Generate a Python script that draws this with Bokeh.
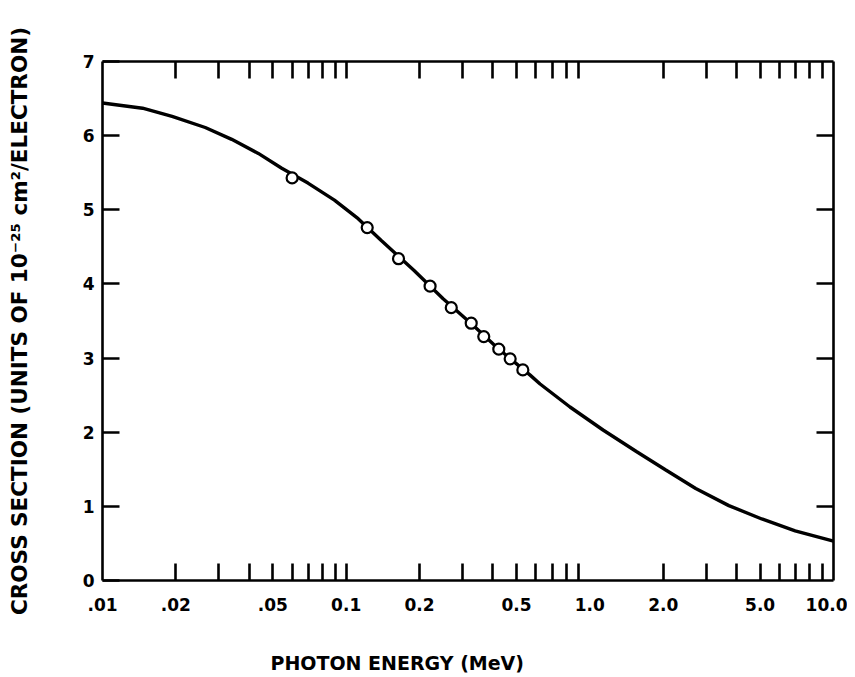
from bokeh.plotting import figure
from bokeh.models import LogAxis, LinearAxis, FixedTicker, Title
from bokeh.embed import file_html
from bokeh.resources import INLINE

# ---- data ----
curve_energy = [0.01, 0.0146, 0.0193, 0.0264, 0.0339, 0.0436, 0.0544, 0.0697, 0.0895,
                0.112, 0.139, 0.19, 0.25, 0.33, 0.42, 0.569, 0.625, 0.829, 1.133, 1.552,
                2.05, 2.72, 3.72, 5.08, 6.96, 10.0]
curve_sigma = [6.44, 6.37, 6.26, 6.11, 5.95, 5.76, 5.56, 5.36, 5.13,
               4.88, 4.59, 4.18, 3.80, 3.45, 3.13, 2.77, 2.65, 2.34, 2.03, 1.74,
               1.49, 1.24, 1.01, 0.83, 0.67, 0.53]

point_energy = [0.060, 0.122, 0.164, 0.221, 0.270, 0.326, 0.367, 0.423, 0.471, 0.531]
point_sigma = [5.43, 4.76, 4.34, 3.97, 3.68, 3.47, 3.29, 3.12, 2.99, 2.84]

x_label_values = [0.01, 0.02, 0.05, 0.1, 0.2, 0.5, 1.0, 2.0, 5.0, 10.0]
x_label_texts = [".01", ".02", ".05", "0.1", "0.2", "0.5", "1.0", "2.0", "5.0", "10.0"]
x_tick_marks = [0.02, 0.03, 0.04, 0.05, 0.06, 0.07, 0.08, 0.09, 0.1,
                0.2, 0.3, 0.4, 0.5, 0.6, 0.7, 0.8, 0.9,
                2.0, 3.0, 4.0, 5.0, 6.0, 7.0, 8.0, 9.0]
y_tick_values = [0, 1, 2, 3, 4, 5, 6, 7]
y_inner_ticks = [1, 2, 3, 4, 5, 6]

FONT = "DejaVu Sans"
TICK_FS = "17px"
LW = 2.6
TICK_LEN = 17

p = figure(width=847, height=677, x_axis_type="log", x_range=(0.01, 10), y_range=(0, 7),
           output_backend="svg", toolbar_location=None,
           min_border_left=102, min_border_right=14, min_border_top=61, min_border_bottom=97)
p.xgrid.visible = False
p.ygrid.visible = False
p.outline_line_color = None
p.background_fill_color = "white"
p.border_fill_color = "white"

# bottom axis: labels at major positions, tick marks as "minor" ticks
xa = p.xaxis[0]
xa.ticker = FixedTicker(ticks=x_label_values, minor_ticks=x_tick_marks)
xa.major_label_overrides = {v: t for v, t in zip(x_label_values, x_label_texts)}
xa.major_tick_in = 0
xa.major_tick_out = 0
xa.minor_tick_in = TICK_LEN
xa.minor_tick_out = 0
xa.minor_tick_line_width = LW
xa.minor_tick_line_color = "black"
xa.axis_line_width = LW
xa.axis_line_color = "black"
xa.major_label_standoff = 17
xa.major_label_text_font = FONT
xa.major_label_text_font_size = TICK_FS
xa.major_label_text_font_style = "bold"
xa.major_label_text_color = "black"
# blank spacer label so the title below sits low, as in the reference
xa.axis_label = "\u00a0"
xa.axis_label_text_font_size = "10px"
xa.axis_label_standoff = 20

# left axis
ya = p.yaxis[0]
ya.ticker = FixedTicker(ticks=y_tick_values)
ya.major_tick_in = TICK_LEN
ya.major_tick_out = 0
ya.major_tick_line_width = LW
ya.minor_tick_line_color = None
ya.axis_line_width = LW
ya.major_label_standoff = 8
ya.major_label_text_font = FONT
ya.major_label_text_font_size = TICK_FS
ya.major_label_text_font_style = "bold"
ya.major_label_text_color = "black"
ya.axis_label = "CROSS SECTION (UNITS OF 10\u207b\u00b2\u2075 cm\u00b2/ELECTRON)"
ya.axis_label_text_font = FONT
ya.axis_label_text_font_size = "21.5px"
ya.axis_label_text_font_style = "bold"
ya.axis_label_text_color = "black"
ya.axis_label_standoff = 48

# top axis (tick marks only)
top = LogAxis(ticker=FixedTicker(ticks=[], minor_ticks=x_tick_marks),
              major_tick_in=0, major_tick_out=0,
              minor_tick_in=TICK_LEN, minor_tick_out=0, minor_tick_line_width=LW,
              axis_line_width=LW, major_label_text_font_size="0px")
p.add_layout(top, "above")

# right axis (tick marks only)
right = LinearAxis(ticker=FixedTicker(ticks=y_inner_ticks),
                   major_tick_in=TICK_LEN, major_tick_out=0, major_tick_line_width=LW,
                   minor_tick_line_color=None, axis_line_width=LW,
                   major_label_overrides={v: "" for v in y_inner_ticks},
                   major_label_text_font_size="0px")
p.add_layout(right, "right")

# x axis title, placed left of centre as in the reference
p.add_layout(Title(text="PHOTON ENERGY (MeV)", align="left", offset=168, standoff=5,
                   text_font=FONT, text_font_size="19px", text_font_style="bold",
                   text_color="black"), "below")

p.line(curve_energy, curve_sigma, line_color="black", line_width=3.4)
p.scatter(point_energy, point_sigma, marker="circle", size=11, fill_color="white",
          line_color="black", line_width=2.2)

open("out.html", "w").write(file_html(p, INLINE))
